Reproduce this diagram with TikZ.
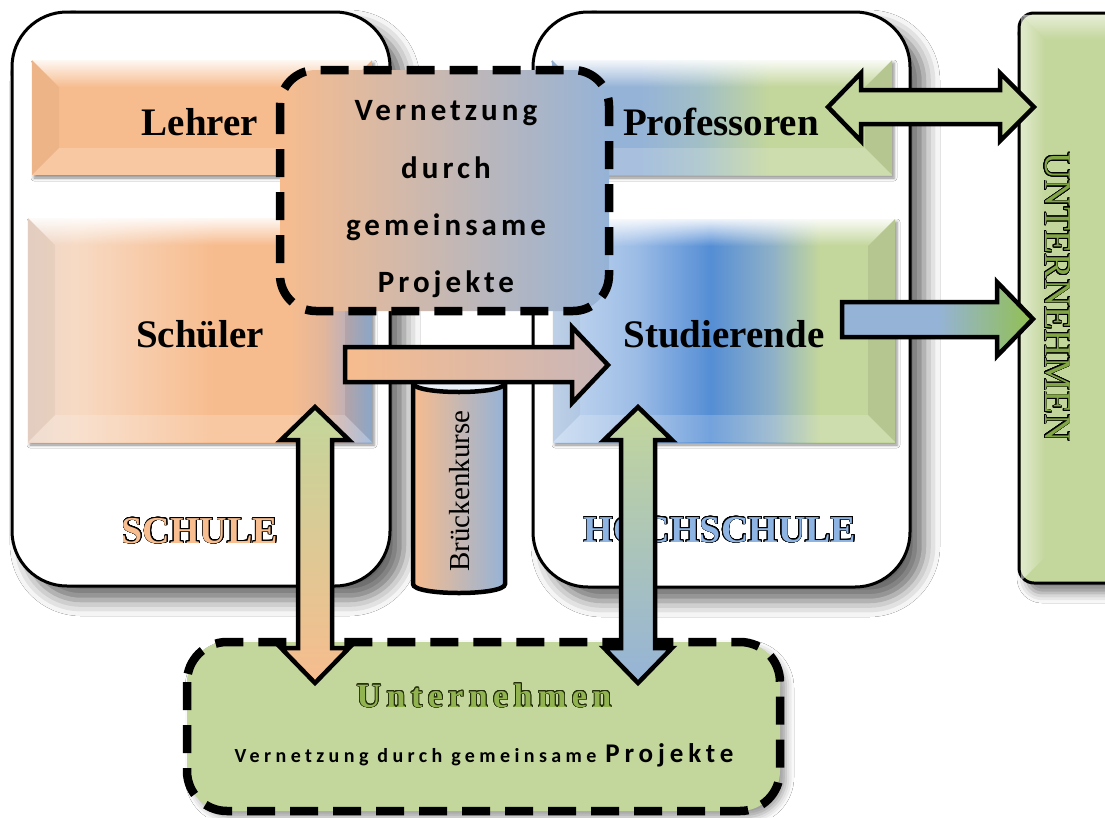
\documentclass[tikz,border=0pt]{standalone}
\usepackage{fontspec}
\setmainfont{Liberation Serif}
\newfontfamily\calsp[LetterSpace=13]{Carlito}
\newfontfamily\calspb[LetterSpace=22]{Carlito}
\newfontfamily\calspc[LetterSpace=18]{Carlito}
\newfontfamily\serifsp[LetterSpace=16]{Liberation Serif}
\usepackage{contour}
\contourlength{0.8pt}
\contournumber{24}
\usetikzlibrary{shadows.blur,fadings}
\definecolor{orng}{RGB}{247,188,142}
\definecolor{blu}{RGB}{149,179,215}
\definecolor{grn}{RGB}{195,214,155}
\definecolor{grnb}{RGB}{146,192,80}
\definecolor{bluD}{RGB}{85,142,213}
\definecolor{sA}{RGB}{236,214,200}
\definecolor{sB}{RGB}{247,218,196}
\definecolor{sC}{RGB}{226,182,155}
\definecolor{sD}{RGB}{194,177,181}
\definecolor{tA}{RGB}{198,217,240}
\definecolor{tB}{RGB}{157,189,230}
\definecolor{tC}{RGB}{142,176,200}
\definecolor{pA}{RGB}{162,191,198}
\definecolor{arrG}{RGB}{200,182,185}
\definecolor{lblO}{RGB}{249,190,143}
\definecolor{lblB}{RGB}{142,180,227}
\definecolor{lblG}{RGB}{130,165,70}
\definecolor{untG}{RGB}{145,180,80}
\definecolor{untD}{RGB}{35,45,12}
\pgfdeclarehorizontalshading{schuelershade}{100bp}{color(0bp)=(sA); color(25bp)=(sA); color(32bp)=(sB); color(52bp)=(orng); color(63bp)=(orng); color(68bp)=(sC); color(71bp)=(sD); color(75bp)=(blu); color(100bp)=(blu)}
\pgfdeclarehorizontalshading{studshade}{100bp}{color(0bp)=(tA); color(25bp)=(tA); color(37bp)=(tB); color(48bp)=(bluD); color(57bp)=(tC); color(64bp)=(grn); color(75bp)=(grn); color(100bp)=(grn)}
\pgfdeclarehorizontalshading{profshade}{100bp}{color(0bp)=(blu); color(25bp)=(blu); color(38bp)=(blu); color(47bp)=(pA); color(57bp)=(grn); color(75bp)=(grn); color(100bp)=(grn)}
\pgfdeclarehorizontalshading{studarrshade}{100bp}{color(0bp)=(blu); color(25bp)=(blu); color(50bp)=(blu); color(75bp)=(grnb); color(100bp)=(grnb)}
\newcommand\bevelbox[5]{%
 \fill[white,path fading=south,opacity=.9] (#1,#2) -- (#3,#2) -- ({#3-#5},{#2+#5}) -- ({#1+#5},{#2+#5}) -- cycle;
 \fill[white,opacity=.18] (#1,#4) -- (#3,#4) -- ({#3-#5},{#4-#5}) -- ({#1+#5},{#4-#5}) -- cycle;
 \fill[black,opacity=.04] (#1,#2) -- ({#1+#5},{#2+#5}) -- ({#1+#5},{#4-#5}) -- (#1,#4) -- cycle;
 \fill[black,opacity=.07] (#3,#2) -- ({#3-#5},{#2+#5}) -- ({#3-#5},{#4-#5}) -- (#3,#4) -- cycle;
}
\tikzset{
 cont/.style={line width=3pt, draw=black, fill=white, rounded corners=55pt,
   blur shadow={shadow xshift=14pt, shadow yshift=-14pt, shadow blur radius=16pt, shadow opacity=60}},
 barsh/.style={blur shadow={shadow xshift=2pt, shadow yshift=-3pt, shadow blur radius=3pt, shadow opacity=45}},
 blk/.style={draw=black, line width=4.5pt, line join=miter},
 dsh/.style={draw=black, line width=8.5pt, dash pattern=on 28pt off 15pt},
 lbl/.style={font=\fontsize{39}{41}\selectfont\bfseries, text=black, anchor=base, inner sep=0pt},
 vt/.style={font=\calsp\bfseries\fontsize{31}{33}\selectfont, text=black, anchor=base, inner sep=0pt},
 capt/.style={font=\fontsize{38}{40}\selectfont\bfseries, anchor=base, inner sep=0pt},
}
\begin{document}
\begin{tikzpicture}[x=1pt,y=-1pt]
\useasboundingbox (0,0) rectangle (1105,817);
\clip (0,0) rectangle (1105,817);
\fill[white] (0,0) rectangle (1105,817);
% containers
\draw[cont] (12,12) rectangle (390,586);
\draw[cont] (533,12) rectangle (910,587);
% bars
\fill[orng,barsh] (32,60) rectangle (372,175);
\bevelbox{32}{60}{372}{175}{27}
\fill[shading=schuelershade,barsh] (28,218) rectangle (372,442);
\bevelbox{28}{218}{372}{442}{27}
\fill[shading=profshade,barsh] (552,60) rectangle (892,175);
\bevelbox{552}{60}{892}{175}{27}
\fill[shading=studshade,barsh] (553,219) rectangle (895,442);
\bevelbox{553}{219}{895}{442}{27}
\node[lbl] (lehrer) at (200,135) {Lehrer};
\node[lbl] (schueler) at (200,347) {Schüler};
\node[lbl] (prof) at (721,135) {Professoren};
\node[lbl] (stud) at (724,347) {Studierende};
% container captions
\node[capt] (schule) at (200,543) {{\color{lblO}\contour{black}{SCHULE}}};
\node[capt] (hochschule) at (720,542) {{\color{lblB}\contour{black}{HOCHSCHULE}}};
% cylinder
\draw[line width=4.5pt, left color=orng, right color=blu] (413,383) -- (413,584) .. controls (413,596) and (505,596) .. (505,584) -- (505,383) .. controls (505,371) and (413,371) .. (413,383) -- cycle;
\draw[line width=4.5pt, fill=white!80!blu] (413,383) .. controls (413,395) and (505,395) .. (505,383) .. controls (505,371) and (413,371) .. (413,383) -- cycle;
\node[rotate=90, inner sep=0pt, font=\fontsize{29}{30}\selectfont] (bk) at (460,491) {Brückenkurse};
% arrow Schueler -> Studierende
\coordinate (sa0) at (345,365);
\coordinate (sa1) at (608,365);
\draw[blk, left color=orng, right color=arrG] (345,347) -- (572,347) -- (572,327) -- (sa1) -- (572,403) -- (572,382) -- (345,382) -- cycle;
% Vernetzung box
\draw[dsh, left color=orng, right color=blu, rounded corners=36pt] (280,70) rectangle (609,311);
\node[vt] (v1) at (446,120) {Vernetzung};
\node[vt] (v2) at (446,178) {durch};
\node[vt] (v3) at (446,235) {gemeinsame};
\node[vt] (v4) at (446,292) {Projekte};
% right UNTERNEHMEN box
\draw[line width=3pt, fill=grn, rounded corners=15pt, blur shadow={shadow xshift=8pt, shadow yshift=-10pt, shadow blur radius=10pt, shadow opacity=50}] (1019,13) rectangle (1140,583);
\fill[white, path fading=south, opacity=.6] (1021,15) -- (1105,15) -- (1105,40) -- (1046,40) -- cycle;
\fill[white, path fading=east, opacity=.5] (1021,15) -- (1046,40) -- (1046,556) -- (1021,581) -- cycle;
\node[rotate=-90, inner sep=0pt, font=\fontsize{38}{40}\selectfont] (untv) at (1057,297) {{\color{lblG}\contour{black}{UNTERNEHMEN}}};
% arrow Professoren <-> UNTERNEHMEN
\coordinate (pa0) at (828,107);
\coordinate (pa1) at (1034,107);
\draw[blk, fill=grn] (pa0) -- (861,73) -- (861,90) -- (1000,90) -- (1000,73) -- (pa1) -- (1000,141) -- (1000,124) -- (861,124) -- (861,141) -- cycle;
% arrow Studierende -> UNTERNEHMEN
\coordinate (ta0) at (842,319);
\coordinate (ta1) at (1033,319);
\draw[blk, shading=studarrshade] (842,302) -- (997,302) -- (997,282) -- (ta1) -- (997,356) -- (997,337) -- (842,337) -- cycle;
% bottom box
\draw[dsh, fill=grn, rounded corners=40pt, blur shadow={shadow xshift=6pt, shadow yshift=-6pt, shadow blur radius=8pt, shadow opacity=40}] (187,642) rectangle (780,811);
\node[anchor=base, inner sep=0pt, font=\serifsp\bfseries\fontsize{34}{36}\selectfont] (unt) at (484,707) {{\color{untG}\contour{untD}{Unternehmen}}};
\node[anchor=base, inner sep=0pt, font=\bfseries] (vp) at (484,762) {{\calspb\bfseries\fontsize{20}{22}\selectfont Vernetzung durch gemeinsame }{\calspc\bfseries\fontsize{27}{29}\selectfont Projekte}};
% vertical double arrows
\coordinate (l0) at (315,407);
\coordinate (l1) at (315,683);
\draw[blk, top color=grn, bottom color=orng] (l0) -- (349,440) -- (332,440) -- (332,648) -- (349,648) -- (l1) -- (281,648) -- (298,648) -- (298,440) -- (281,440) -- cycle;
\coordinate (r0) at (638,407);
\coordinate (r1) at (638,683);
\draw[blk, top color=grn, bottom color=blu] (r0) -- (672,440) -- (655,440) -- (655,648) -- (672,648) -- (r1) -- (604,648) -- (621,648) -- (621,440) -- (604,440) -- cycle;
\end{tikzpicture}
\end{document}
